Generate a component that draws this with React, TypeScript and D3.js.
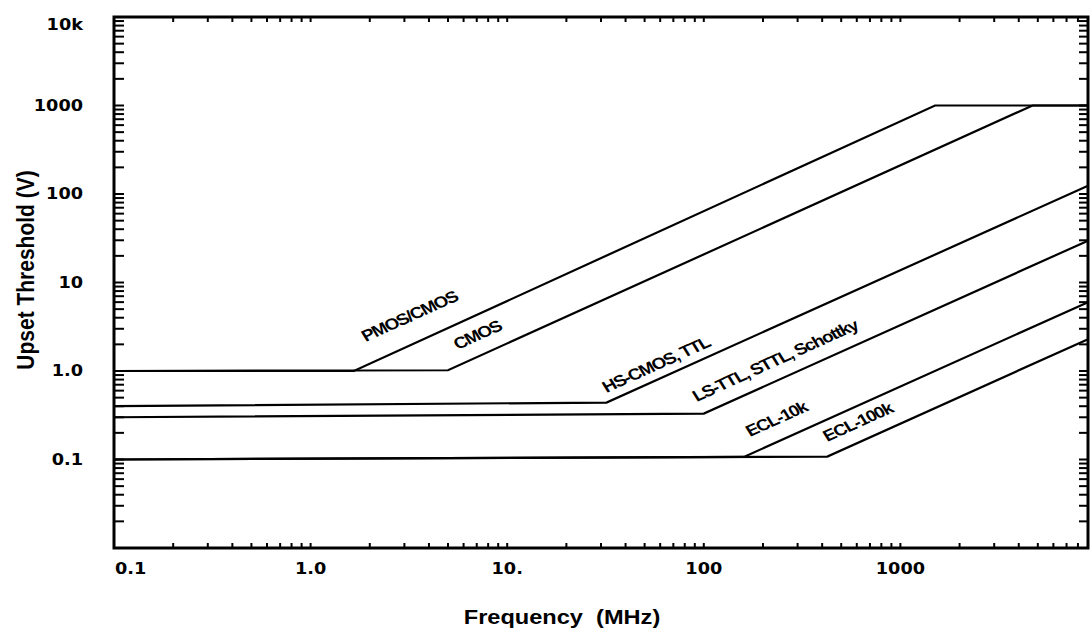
import React from 'react';
import * as d3 from 'd3';

// ---- data (frequency MHz, upset threshold V) ----
const PMOS_CMOS: [number, number][] = [[0.1, 1.0], [1.66, 1.0], [1500, 1000], [9000, 1000]];
const CMOS: [number, number][] = [[0.1, 1.0], [5.0, 1.02], [4700, 1000], [9000, 1000]];
const HS_CMOS_TTL: [number, number][] = [[0.1, 0.4], [32, 0.44], [9000, 124]];
const LS_TTL: [number, number][] = [[0.1, 0.3], [100, 0.33], [9000, 29.7]];
const ECL_10K: [number, number][] = [[0.1, 0.1], [160, 0.107], [9000, 6.0]];
const ECL_100K: [number, number][] = [[0.1, 0.1], [425, 0.108], [9000, 2.29]];
const SERIES = [PMOS_CMOS, CMOS, HS_CMOS_TTL, LS_TTL, ECL_10K, ECL_100K];

const LABEL_TEXT = ['PMOS/CMOS', 'CMOS', 'HS-CMOS, TTL', 'LS-TTL, STTL, Schottky', 'ECL-10k', 'ECL-100k'];
const LABEL_FREQ = [1.91, 5.6, 32, 92, 172, 425];
const LABEL_VOLT = [2.13, 1.73, 0.564, 0.447, 0.18, 0.158];

const X_TICK_VALUES = [0.1, 1, 10, 100, 1000];
const X_TICK_LABELS = ['0.1', '1.0', '10.', '100', '1000'];
const Y_TICK_VALUES = [0.1, 1, 10, 100, 1000, 10000];
const Y_TICK_LABELS = ['0.1', '1.0', '10', '100', '1000', '10k'];

const X_TITLE = 'Frequency  (MHz)';
const Y_TITLE = 'Upset Threshold (V)';

// ---- layout ----
const W = 1091, H = 635;
const L = 114, R = 1088, T = 17, B = 548;
const S = 1.18; // horizontal stretch of lettering

export default function App() {
  const x = d3.scaleLog().domain([0.1, 9000]).range([L, R]);
  const y = d3.scaleLog().domain([0.01, 10000]).range([B, T]);
  const line = d3.line<[number, number]>().x(d => x(d[0])).y(d => y(d[1]));

  const yMinor: number[] = [];
  for (let e = -2; e <= 3; e++) for (let k = 1; k <= 9; k++) yMinor.push(k * Math.pow(10, e));
  yMinor.push(10000);
  const xMinor: number[] = [];
  for (let e = -1; e <= 3; e++) for (let k = 1; k <= 9; k++) {
    const v = k * Math.pow(10, e);
    if (v <= 9000) xMinor.push(v);
  }

  const slopeScreen = (y(1) - y(10)) / (x(10) - x(1));
  const angPre = (Math.atan(slopeScreen * S) * 180) / Math.PI;

  return (
    <svg width={W} height={H} style={{ position: 'absolute', left: 0, top: 0, background: '#fff' }}>
      <rect x={0} y={0} width={W} height={H} fill="#fff" />
      {/* data lines */}
      {SERIES.map((s, i) => (
        <path key={i} d={line(s) || ''} fill="none" stroke="#000" strokeWidth={2.2} strokeLinejoin="miter" />
      ))}
      {/* frame */}
      <rect x={L} y={T} width={R - L} height={B - T} fill="none" stroke="#000" strokeWidth={3} />
      {/* y ticks */}
      {yMinor.map((v, i) => (
        <g key={'y' + i}>
          <line x1={L} x2={L + 10} y1={y(v)} y2={y(v)} stroke="#000" strokeWidth={2} />
          <line x1={R} x2={R - 9} y1={y(v)} y2={y(v)} stroke="#000" strokeWidth={2} />
        </g>
      ))}
      {/* x ticks */}
      {xMinor.map((v, i) => (
        <g key={'x' + i}>
          <line x1={x(v)} x2={x(v)} y1={B} y2={B - 5} stroke="#000" strokeWidth={2} />
          <line x1={x(v)} x2={x(v)} y1={T} y2={T + 5} stroke="#000" strokeWidth={2} />
        </g>
      ))}
      {/* y tick labels */}
      {Y_TICK_VALUES.map((v, i) => (
        <text
          key={'yl' + i}
          transform={`translate(83,${Math.max(y(v), T + 8)}) scale(${S},1)`}
          textAnchor="end"
          dominantBaseline="central"
          fontFamily="DejaVu Sans"
          fontWeight="bold"
          fontSize={15}
        >
          {Y_TICK_LABELS[i]}
        </text>
      ))}
      {/* x tick labels */}
      {X_TICK_VALUES.map((v, i) => (
        <text
          key={'xl' + i}
          transform={`translate(${i === 0 ? x(v) + 1 : x(v)},574) scale(${S},1)`}
          textAnchor={i === 0 ? 'start' : 'middle'}
          fontFamily="DejaVu Sans"
          fontWeight="bold"
          fontSize={15}
        >
          {X_TICK_LABELS[i]}
        </text>
      ))}
      {/* series labels */}
      {LABEL_TEXT.map((t, i) => (
        <text
          key={'sl' + i}
          transform={`translate(${x(LABEL_FREQ[i])},${y(LABEL_VOLT[i])}) scale(${S},1) rotate(${-angPre})`}
          fontFamily="Liberation Sans, Arial, sans-serif"
          fontWeight="bold"
          fontSize={16}
          letterSpacing={-1.1}
        >
          {t}
        </text>
      ))}
      {/* axis titles */}
      <text
        transform={`translate(562,624) scale(${S},1)`}
        textAnchor="middle"
        fontFamily="Liberation Sans, Arial, sans-serif"
        fontWeight="bold"
        fontSize={20}
        style={{ whiteSpace: 'pre' }}
      >
        {X_TITLE}
      </text>
      <text
        transform={`translate(25,270) scale(${S},1) rotate(-90)`}
        textAnchor="middle"
        dominantBaseline="central"
        fontFamily="Liberation Sans, Arial, sans-serif"
        fontWeight="bold"
        fontSize={21}
      >
        {Y_TITLE}
      </text>
    </svg>
  );
}
